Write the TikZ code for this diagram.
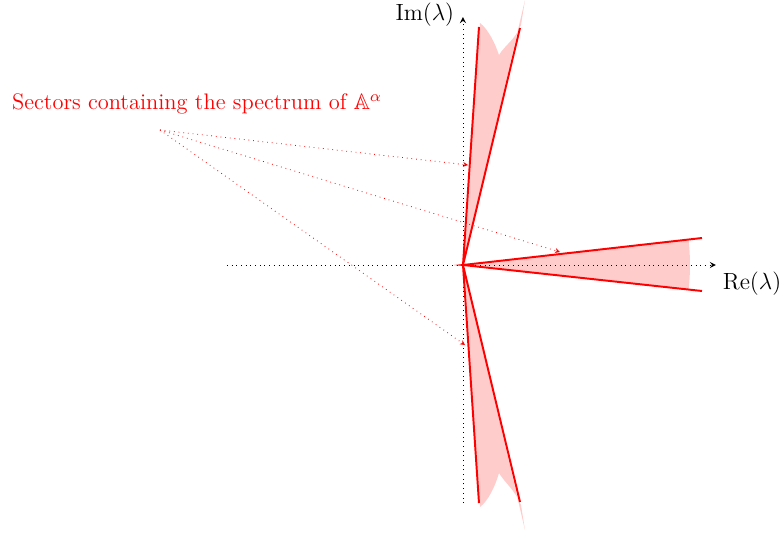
\documentclass[tikz,border=0pt]{standalone}
\usepackage{amsmath,amssymb}
\usepackage{xcolor}
\usepackage{tikz}
\usetikzlibrary{
    arrows,
    arrows.meta,
    calc,
    positioning
}
\definecolor{sectred}{HTML}{FF0000}
\definecolor{sectfill}{HTML}{FFCCCC}
\tikzstyle{axis}=[dotted,->,>=stealth,draw=black]

\begin{document}
\begin{tikzpicture}[
    x=1.8cm,y=1.8cm,
    every node/.style={font=\fontsize{11.5}{14}\selectfont},
    edge/.style={
        draw=sectred,
        line width=1pt
    },
    pointer/.style={
        draw=sectred,
        dotted,
        -{Stealth[length=2.5pt,width=2.5pt]}
    },
    sector/.style={
        fill=sectfill,
        draw=none
    }
]
\useasboundingbox (-4.63,-2.69) rectangle (3.16,2.65);

\coordinate (origin) at (0,0);

% shaded sectors
\fill[sector] (origin) -- (0.17,2.42) .. controls (0.25,2.36) and (0.32,2.22) .. (0.36,2.10)
    .. controls (0.42,2.20) and (0.52,2.25) .. (0.58,2.40) -- (0.62,2.65) -- cycle;
\fill[sector] (origin) -- (0.17,-2.42) .. controls (0.25,-2.36) and (0.32,-2.22) .. (0.36,-2.08)
    .. controls (0.42,-2.18) and (0.52,-2.25) .. (0.58,-2.40) -- (0.62,-2.65) -- cycle;
\fill[sector] (origin) -- (6.4:2.27) arc[start angle=6.4,end angle=-6.3,radius=2.27] -- cycle;

% axes
\coordinate (xmin) at (-2.36,0);
\coordinate (xmax) at (2.53,0);
\coordinate (ymin) at (0,-2.38);
\coordinate (ymax) at (0,2.48);
\draw[axis] (xmin) -- (xmax) node[below right] (relabel) {$\mathrm{Re}(\lambda)$};
\draw[axis] (ymin) -- (ymax) node[left,xshift=-1pt,yshift=1pt] (imlabel) {$\mathrm{Im}(\lambda)$};

% sector boundaries
\coordinate (topA) at (0.16,2.38);
\coordinate (topB) at (0.57,2.37);
\coordinate (botA) at (0.16,-2.38);
\coordinate (botB) at (0.57,-2.37);
\coordinate (rightA) at (2.39,0.27);
\coordinate (rightB) at (2.39,-0.26);
\draw[edge] (topA) -- (origin) -- (topB);
\draw[edge] (botA) -- (origin) -- (botB);
\draw[edge] (rightA) -- (origin) -- (rightB);

% label and pointers
\node[text=sectred] (caption) at (-2.66,1.61) {Sectors containing the spectrum of $\mathbb{A}^{\alpha}$};
\coordinate (src) at (-3.03,1.35);
\coordinate (hitTop) at (0.05,1.00);
\coordinate (hitRight) at (0.97,0.13);
\coordinate (hitBot) at (0.02,-0.80);
\draw[pointer] (src) -- (hitTop);
\draw[pointer] (src) -- (hitRight);
\draw[pointer] (src) -- (hitBot);
\end{tikzpicture}
\end{document}
